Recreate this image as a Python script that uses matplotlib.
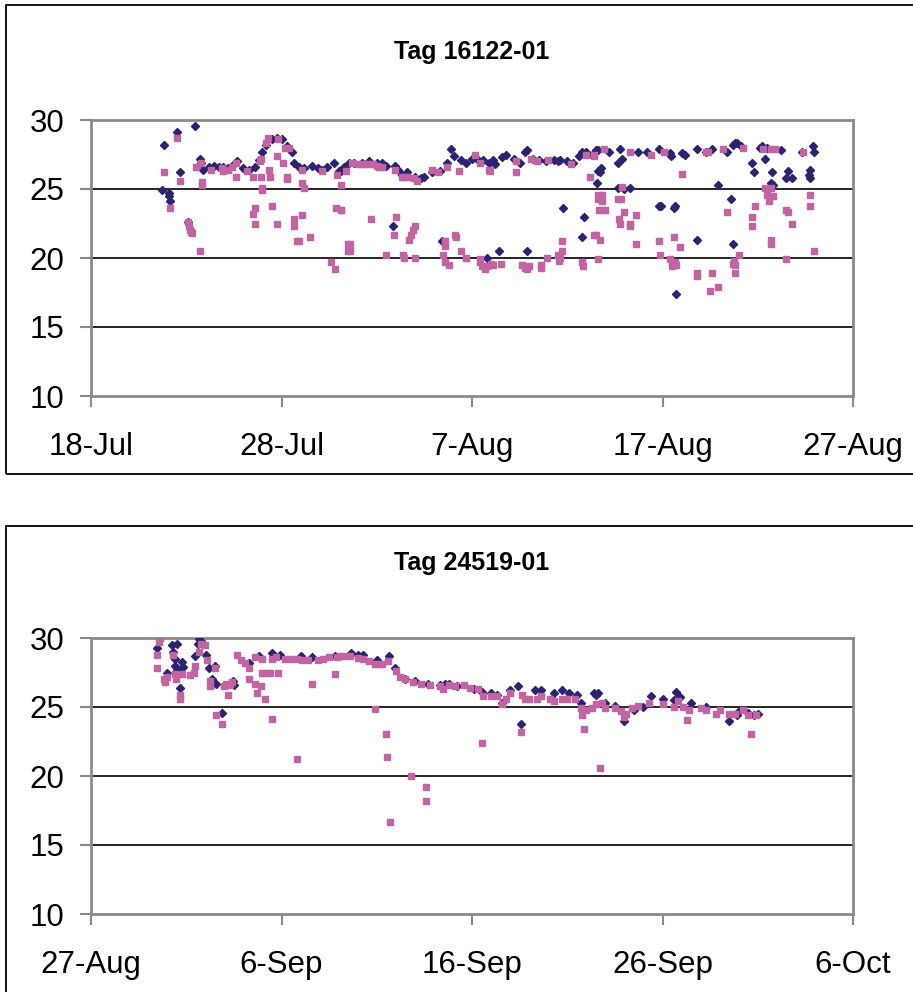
import numpy as np
import pandas as pd
import matplotlib
matplotlib.use("Agg")
import matplotlib.pyplot as plt
import matplotlib.dates as mdates
from matplotlib.patches import Rectangle
from matplotlib.ticker import FuncFormatter

plt.rcParams["font.family"] = ["Liberation Sans", "DejaVu Sans"]

# Tag 16122-01: days after 18-Jul, temperature
tag1_start = "2004-07-18"
tag1_blue_day = [3.75, 3.84, 4.07, 4.1, 4.17, 4.49, 4.67, 5.1, 5.47, 5.72, 5.8, 5.9, 6.2, 6.47, 6.7, 6.91, 7.2, 7.5,
                 7.67, 8.0, 8.3, 8.6, 8.8, 8.98, 9.2, 9.5, 9.75, 10.0, 10.3, 10.54, 10.67, 10.9, 11.2, 11.6, 11.9,
                 12.1, 12.4, 12.75, 13.0, 13.1, 13.3, 13.54, 13.8, 14.2, 14.6, 15.0, 15.25, 15.5, 15.86, 15.95,
                 16.1, 16.3, 16.6, 17.0, 17.3, 17.5, 17.9, 18.3, 18.4, 18.7, 18.9, 19.07, 19.4, 19.7, 20.0, 20.3,
                 20.6, 20.8, 20.9, 21.1, 21.2, 21.4, 21.6, 21.8, 22.2, 22.5, 22.8, 22.9, 22.9, 23.2, 23.5, 23.9,
                 24.3, 24.5, 24.6, 24.8, 25.0, 25.3, 25.6, 25.77, 25.8, 25.86, 26.0, 26.3, 26.5, 26.56, 26.6, 26.6,
                 26.7, 26.75, 27.2, 27.65, 27.65, 27.75, 27.9, 28.0, 28.3, 28.7, 29.2, 29.8, 29.8, 29.9, 30.4,
                 30.45, 30.6, 30.65, 30.7, 31.0, 31.2, 31.8, 31.8, 32.3, 32.6, 32.9, 33.4, 33.6, 33.7, 33.7, 33.8,
                 33.9, 34.1, 34.7, 34.8, 35.1, 35.2, 35.4, 35.5, 35.7, 35.75, 35.8, 36.2, 36.5, 36.6, 36.8, 37.3,
                 37.7, 37.75, 37.75, 37.9, 37.95]
tag1_blue_temp = [24.9, 28.2, 24.7, 24.5, 24.1, 29.1, 26.2, 22.6, 29.6, 27.2, 26.9, 26.4, 26.6, 26.7, 26.6, 26.6,
                  26.5, 26.8, 27.0, 26.5, 26.4, 26.6, 27.1, 27.7, 28.2, 28.6, 28.7, 28.6, 28.1, 27.7, 26.9, 26.6,
                  26.5, 26.7, 26.5, 26.4, 26.6, 26.9, 26.3, 26.3, 26.6, 26.9, 26.9, 26.9, 27.0, 26.9, 26.9, 26.7,
                  22.3, 26.7, 26.4, 26.0, 26.2, 25.9, 25.8, 25.85, 26.2, 26.3, 21.2, 26.9, 27.9, 27.4, 27.1, 26.9,
                  27.2, 27.1, 27.1, 20.0, 26.9, 27.1, 26.8, 20.5, 27.3, 27.5, 27.2, 26.9, 27.7, 27.8, 20.5, 27.2,
                  27.1, 27.0, 27.1, 27.0, 27.1, 23.6, 27.0, 26.9, 27.4, 21.5, 27.7, 23.0, 27.7, 27.5, 27.8, 25.4,
                  26.3, 27.8, 26.2, 26.5, 27.7, 26.9, 25.05, 27.9, 27.2, 25.0, 25.05, 27.7, 27.7, 27.9, 23.8, 23.8,
                  27.6, 27.4, 23.6, 23.8, 17.4, 27.6, 27.5, 27.9, 21.3, 27.7, 27.9, 25.3, 27.7, 24.3, 21.0, 28.2,
                  28.3, 28.3, 28.1, 26.9, 26.2, 28.0, 28.1, 27.2, 28.0, 25.4, 26.2, 25.3, 27.8, 25.8, 26.3, 25.8,
                  27.7, 26.0, 26.4, 25.8, 28.1, 27.7]
tag1_pink_day = [3.84, 4.51, 4.67, 5.5, 5.77, 5.82, 5.85, 6.3, 6.9, 6.95, 7.2, 7.4, 7.6, 7.6, 8.2, 8.5, 8.85, 8.9,
                 8.9, 8.98, 8.98, 9.19, 9.3, 9.33, 9.4, 9.8, 9.75, 10.07, 10.2, 10.4, 10.3, 10.3, 11.05, 11.2, 11.1,
                 12.1, 12.9, 13.1, 13.4, 13.7, 14.0, 14.2, 14.4, 14.6, 14.8, 15.0, 15.1, 15.3, 15.95, 16.3, 16.45,
                 16.6, 16.95, 17.1, 17.9, 18.2, 18.7, 19.3, 20.16, 20.4, 20.9, 20.95, 22.3, 22.3, 23.1, 23.4, 24.0,
                 25.2, 26.0, 26.2, 26.4, 26.4, 26.95, 28.3, 29.4, 30.1, 31.0, 32.3, 32.4, 33.2, 34.2, 35.3, 35.7,
                 35.9, 37.35,
                 4.17, 5.07, 5.12, 5.2, 5.25, 5.3, 5.72, 8.5, 8.6, 8.6, 9.49, 9.75, 10.65, 10.65, 10.8, 10.9,
                 11.05, 11.5, 12.6, 12.8, 12.84, 13.1, 13.14, 13.5, 13.5, 13.6, 13.58, 14.7, 15.5, 15.9, 16.0, 16.4,
                 16.45, 16.7, 16.8, 16.9, 17.0, 17.0, 18.5, 18.6, 18.6, 18.6, 18.8, 19.1, 19.15, 19.4, 19.7, 20.4,
                 20.4, 20.5, 20.7, 20.8, 21.0, 21.1, 21.5, 22.6, 22.8, 22.9, 23.0, 23.6, 23.6, 23.96, 24.5, 24.55,
                 24.6, 24.7, 24.7, 25.8, 25.85, 26.5, 26.6, 26.62, 26.65, 26.7, 26.6, 26.4, 26.8, 26.8, 26.8, 27.0,
                 27.65, 27.8, 27.9, 28.0, 27.7, 27.75, 28.3, 28.3, 28.6, 28.6, 29.8, 29.86, 30.4, 30.5, 30.55, 30.7,
                 30.65, 30.6, 30.9, 31.8, 31.8, 32.5, 32.6, 32.9, 33.4, 33.7, 33.75, 33.8, 33.8, 34.0, 34.7, 34.7,
                 34.85, 35.4, 35.5, 35.6, 35.7, 35.8, 35.7, 35.7, 36.5, 36.5, 36.6, 36.8, 37.75, 37.75, 37.95]
tag1_pink_temp = [26.2, 28.7, 25.6, 26.6, 26.9, 25.5, 25.3, 26.4, 26.5, 26.3, 26.4, 26.6, 26.9, 25.9, 26.3, 25.9,
                  27.0, 27.2, 25.9, 25.1, 24.9, 28.3, 28.7, 26.4, 25.9, 28.6, 27.4, 26.9, 28.0, 28.0, 25.9, 25.7,
                  25.4, 25.05, 26.4, 26.3, 26.0, 25.3, 26.3, 26.9, 26.8, 26.8, 26.8, 26.8, 26.8, 26.7, 26.6, 26.6,
                  26.4, 25.85, 25.85, 25.85, 25.8, 25.6, 26.4, 26.2, 26.6, 26.3, 27.5, 26.9, 26.4, 26.3, 27.0, 26.2,
                  27.2, 27.0, 27.1, 26.8, 27.5, 25.9, 27.5, 27.4, 27.9, 27.7, 27.5, 27.7, 26.1, 27.7, 27.7, 27.9,
                  28.0, 27.9, 27.9, 27.9, 27.7,
                  23.6, 22.6, 22.3, 22.0, 21.9, 21.8, 20.5, 23.2, 23.6, 22.5, 23.8, 22.5, 22.8, 22.3, 21.25, 21.25,
                  23.1, 21.5, 19.7, 19.2, 23.6, 23.5, 23.5, 21.0, 20.5, 20.5, 21.0, 22.8, 20.2, 21.7, 23.0, 20.2,
                  20.0, 21.3, 21.7, 22.0, 22.3, 20.0, 20.2, 21.2, 20.85, 19.7, 19.5, 21.7, 21.5, 20.5, 20.0, 19.7,
                  19.9, 19.4, 19.2, 19.4, 19.6, 19.5, 19.6, 19.5, 19.3, 19.2, 19.4, 19.5, 19.3, 20.0, 20.2, 19.8,
                  20.0, 20.5, 21.2, 19.7, 19.4, 21.7, 24.3, 24.6, 23.5, 21.3, 19.9, 21.7, 24.6, 24.1, 23.5, 23.5,
                  24.3, 24.3, 25.15, 23.3, 22.8, 22.5, 22.5, 22.3, 23.1, 21.0, 21.25, 20.2, 19.9, 19.4, 19.5, 19.5,
                  19.7, 21.5, 20.8, 18.9, 18.7, 17.6, 18.9, 17.9, 23.3, 19.6, 19.8, 19.5, 18.9, 20.2, 23.0, 22.3,
                  23.8, 25.1, 24.6, 24.1, 25.1, 24.5, 21.3, 21.0, 19.9, 23.5, 23.3, 22.5, 24.6, 23.8, 20.5]

# Tag 24519-01: days after 27-Aug, temperature
tag2_start = "2004-08-27"
tag2_blue_day = [3.49, 3.98, 4.25, 4.3, 4.4, 4.42, 4.49, 4.54, 4.6, 4.67, 4.77, 4.84, 5.47, 5.6, 5.68, 5.75, 6.04,
                 6.21, 6.35, 6.5, 6.56, 6.88, 7.44, 7.5, 8.3, 8.8, 9.5, 9.9, 11.0, 11.6, 12.8, 13.67, 14.0, 14.3,
                 15.0, 15.63, 15.95, 16.5, 17.0, 17.67, 18.3, 18.6, 18.8, 19.2, 20.1, 20.5, 21.0, 21.3, 21.6, 22.0,
                 22.4, 22.56, 23.3, 23.6, 24.3, 24.7, 25.1, 25.5, 25.7, 26.4, 26.5, 26.6, 27.0, 27.5, 28.0, 28.5,
                 29.0, 29.4, 30.0, 30.6, 30.7, 30.9, 31.5, 32.3, 33.5, 33.9, 34.0, 34.5, 34.8, 35.0]
tag2_blue_temp = [29.3, 27.5, 29.5, 29.0, 28.0, 28.5, 29.6, 27.7, 27.6, 26.4, 28.25, 27.9, 28.7, 29.6, 29.9, 29.8,
                  28.8, 27.8, 27.0, 28.0, 26.7, 24.6, 26.9, 26.6, 28.2, 28.7, 28.9, 28.8, 28.7, 28.6, 28.7, 28.9,
                  28.8, 28.8, 28.4, 28.7, 27.8, 27.0, 26.9, 26.7, 26.6, 26.7, 26.7, 26.5, 26.3, 26.1, 26.0, 25.9,
                  25.3, 26.2, 26.5, 23.8, 26.2, 26.2, 26.0, 26.2, 26.0, 25.9, 25.3, 26.0, 25.9, 26.0, 25.3, 25.1,
                  24.0, 24.8, 25.0, 25.8, 25.6, 25.5, 26.06, 25.7, 25.3, 25.0, 24.0, 24.4, 24.7, 24.6, 24.4, 24.5]
tag2_pink_day = [3.63, 3.58, 3.49, 3.46, 3.84, 3.9, 4.0, 4.3, 4.4, 4.45, 4.67, 4.67, 4.8, 5.2, 5.4, 5.47, 5.65, 5.8,
                 6.0, 6.07, 6.25, 6.25, 6.5, 6.56, 6.88, 7.0, 7.1, 7.2, 7.3, 7.4, 7.67, 7.9, 8.1, 8.3, 8.28, 8.6,
                 8.7, 8.9, 9.0, 9.16, 9.2, 9.4, 9.49, 9.8, 8.6, 9.0, 9.5, 9.7, 10.2, 10.5, 10.8, 10.8, 11.1, 11.4,
                 11.6, 11.9, 12.2, 12.5, 12.8, 12.9, 13.05, 13.3, 13.6, 14.0, 14.3, 14.6, 14.9, 14.9, 15.1, 15.3,
                 15.47, 15.54, 15.6, 15.7, 16.0, 16.2, 16.5, 16.8, 16.9, 17.3, 17.6, 17.6, 17.8, 18.3, 18.5, 18.8,
                 19.1, 19.6, 19.9, 20.3, 20.5, 20.6, 21.0, 21.3, 21.6, 21.8, 22.0, 22.56, 22.6, 22.8, 23.0, 23.4,
                 23.6, 24.1, 24.3, 24.7, 25.0, 25.4, 25.7, 25.77, 25.9, 26.0, 26.3, 26.5, 26.7, 26.8, 27.0, 27.5,
                 27.8, 28.0, 28.1, 28.4, 28.7, 29.3, 30.0, 30.6, 30.8, 31.1, 31.3, 31.4, 32.0, 32.3, 32.8, 33.0,
                 33.5, 33.8, 34.2, 34.5, 34.67, 34.9]
tag2_pink_temp = [30.0, 29.7, 28.8, 27.8, 27.0, 26.8, 27.2, 28.8, 27.4, 27.0, 25.9, 25.6, 27.4, 27.3, 27.5, 28.0,
                  29.0, 29.6, 29.5, 28.4, 26.85, 26.5, 27.8, 24.4, 23.8, 26.5, 26.7, 25.9, 26.6, 26.8, 28.8, 28.4,
                  28.2, 27.8, 27.0, 26.7, 26.0, 26.5, 27.5, 25.6, 27.5, 27.5, 24.1, 27.5, 28.6, 28.5, 28.5, 28.6,
                  28.5, 28.5, 28.5, 21.2, 28.4, 28.4, 26.7, 28.4, 28.5, 28.6, 27.4, 28.6, 28.7, 28.7, 28.7, 28.55,
                  28.5, 28.3, 28.1, 24.85, 28.1, 28.1, 23.05, 21.4, 28.3, 16.7, 27.6, 27.2, 27.0, 20.0, 26.8, 26.7,
                  19.2, 18.2, 26.6, 26.5, 26.3, 26.6, 26.5, 26.6, 26.4, 26.3, 22.4, 25.8, 25.8, 25.8, 25.2, 25.6,
                  26.0, 23.2, 25.9, 25.6, 25.6, 25.6, 25.8, 25.6, 25.4, 25.6, 25.6, 25.6, 24.9, 24.4, 23.4, 24.8,
                  24.9, 25.2, 20.6, 25.3, 24.9, 24.9, 24.7, 24.3, 24.5, 24.9, 25.1, 25.3, 25.2, 25.0, 25.4, 25.0,
                  24.08, 24.8, 24.9, 24.8, 24.5, 24.8, 24.5, 24.5, 24.8, 24.4, 23.07, 24.4]

panels = [
    ("Tag 16122-01", tag1_start, tag1_blue_day, tag1_blue_temp, tag1_pink_day, tag1_pink_temp),
    ("Tag 24519-01", tag2_start, tag2_blue_day, tag2_blue_temp, tag2_pink_day, tag2_pink_temp),
]

W, H = 913, 992
fig = plt.figure(figsize=(W / 100, H / 100), dpi=100)

# panel frames (pixels: left, top, right, bottom)
frames = [(6, 5, 916, 474), (6, 526, 916, 1000)]
# axes areas in pixels
axes_px = [(91, 120, 853, 396), (91, 638, 853, 914)]
title_y = [52, 563]

blue = "#2A2272"
pink = "#C264A2"
gray = "#8A8A8A"

for i, (title, start, bd, bt, pd_, pt) in enumerate(panels):
    fl, ft, fr, fb = frames[i]
    fig.patches.append(Rectangle((fl / W, 1 - fb / H), (fr - fl) / W, (fb - ft) / H,
                                 transform=fig.transFigure, fill=False, edgecolor="black", linewidth=1.3))
    l, t, r, b = axes_px[i]
    ax = fig.add_axes([l / W, 1 - b / H, (r - l) / W, (b - t) / H])

    t0 = pd.Timestamp(start)
    bx = [t0 + pd.Timedelta(days=d) for d in bd]
    px = [t0 + pd.Timedelta(days=d) for d in pd_]
    ax.plot(bx, bt, linestyle="none", marker="D", markersize=4.4, color=blue, zorder=3)
    ax.plot(px, pt, linestyle="none", marker="s", markersize=4.4, color=pink, zorder=4)

    ticks = [t0 + pd.Timedelta(days=10 * k) for k in range(5)]
    ax.set_xlim(ticks[0], ticks[-1])
    ax.set_xticks(ticks)
    ax.xaxis.set_major_formatter(FuncFormatter(
        lambda v, pos: f"{mdates.num2date(v).day}-{mdates.num2date(v).strftime('%b')}"))
    ax.set_ylim(10, 30)
    ax.set_yticks([10, 15, 20, 25, 30])
    for y in [15, 20, 25]:
        ax.axhline(y, color="black", linewidth=1.2, zorder=1)

    for s in ax.spines.values():
        s.set_color(gray)
        s.set_linewidth(2)
    ax.tick_params(axis="both", direction="out", length=8, width=1.5, color=gray,
                   labelsize=22.5, labelcolor="black")
    ax.tick_params(axis="x", pad=18)
    ax.tick_params(axis="y", pad=11)

    fig.text((l + r) / 2 / W, 1 - title_y[i] / H, title, ha="center", va="center",
             fontsize=18, fontweight="bold")

fig.savefig("out.png", dpi=100)
